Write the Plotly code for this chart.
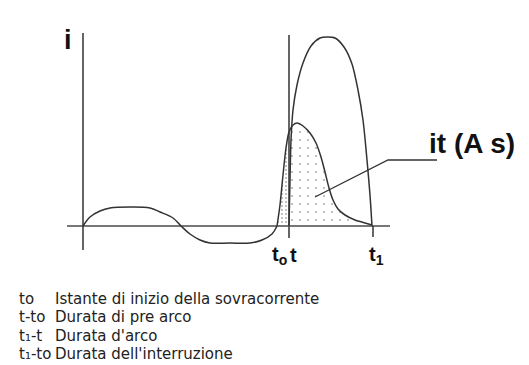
import plotly.graph_objects as go

# time axis origin at the vertical i axis, current 0 on the horizontal axis
wave_t = [0, 7, 17, 27, 47, 67, 77, 90, 98, 107, 117, 127, 147, 167, 179, 189, 194]
wave_i = [0, 9, 15, 18, 19, 18, 14, 8, 0, -8, -14, -17, -17, -17, -14, -8, 0]

# prospective short-circuit current (big arc)
prosp_t = [206, 207, 208, 210, 214, 220, 228, 237, 244, 252, 261, 269, 275, 280, 284, 287, 289]
prosp_i = [0, 46, 86, 116, 141, 163, 180, 188, 189, 188, 179, 162, 136, 106, 66, 31, 0]

# limited current through the fuse
lim_t = [194, 197, 200, 203, 206, 210, 214, 220, 227, 233, 238, 242, 246, 250, 255, 262, 272, 282, 289]
lim_i = [0, 21, 51, 78, 94, 101, 103, 100, 93, 83, 69, 54, 38, 26, 17, 11, 6, 3, 1]

t0 = 194
t = 206
t1 = 289

tick_labels = ['t<sub>o</sub>', 't', 't<sub>1</sub>']
tick_pos = [196, 210, 293]

legend_keys = ['to', 't-to', 't₁-t', 't₁-to']
legend_text = ['Istante di inizio della sovracorrente',
               'Durata di pre arco',
               'Durata d\'arco',
               'Durata dell\'interruzione']
legend_y = [-73, -91, -110, -128]

LINE = '#333333'
AXIS = '#777777'

fig = go.Figure()

# dotted areas under the limited current: pre-arc (dense) and arc (sparse)
k = lim_t.index(t)
fig.add_trace(go.Scatter(
    x=lim_t[:k + 1] + [t, t0], y=lim_i[:k + 1] + [0, 0],
    fill='toself', mode='lines', line=dict(width=0),
    fillcolor='rgba(0,0,0,0)',
    fillpattern=dict(shape='.', size=4, solidity=0.18, fgcolor='#555555', bgcolor='white'),
    hoverinfo='skip'))
fig.add_trace(go.Scatter(
    x=lim_t[k:] + [t1, t], y=lim_i[k:] + [0, 0],
    fill='toself', mode='lines', line=dict(width=0),
    fillcolor='rgba(0,0,0,0)',
    fillpattern=dict(shape='.', size=8, solidity=0.05, fgcolor='#555555', bgcolor='white'),
    hoverinfo='skip'))

# axes
fig.add_trace(go.Scatter(x=[-16, 307], y=[0, 0], mode='lines',
                         line=dict(color=AXIS, width=2), hoverinfo='skip'))
fig.add_trace(go.Scatter(x=[0, 0], y=[193, -24], mode='lines',
                         line=dict(color=LINE, width=1.5), hoverinfo='skip'))
fig.add_trace(go.Scatter(x=[t, t], y=[191, -12], mode='lines',
                         line=dict(color='#555555', width=1.8), hoverinfo='skip'))
fig.add_trace(go.Scatter(x=[t1 + 1, t1 + 1], y=[0, -11], mode='lines',
                         line=dict(color=LINE, width=1.5), hoverinfo='skip'))

# curves
for xs, ys, sm in [(wave_t, wave_i, 1.0), (prosp_t, prosp_i, 0.8), (lim_t, lim_i, 0.8)]:
    fig.add_trace(go.Scatter(x=xs, y=ys, mode='lines', line_shape='spline',
                             line=dict(color=LINE, width=1.5, smoothing=sm),
                             hoverinfo='skip'))

# pointer to the it label
fig.add_trace(go.Scatter(x=[232, 305, 354], y=[29, 66, 66], mode='lines',
                         line=dict(color=LINE, width=1.3), hoverinfo='skip'))

bold = dict(family='Liberation Sans, Arial, sans-serif', color='#111111')
fig.add_annotation(x=-15, y=186, text='<b>i</b>', showarrow=False,
                   font=dict(size=27, **bold))
fig.add_annotation(x=389, y=83, text='<b>it (A s)</b>', showarrow=False,
                   font=dict(size=28, **bold))
for lab, xp in zip(tick_labels, tick_pos):
    fig.add_annotation(x=xp, y=-29, text='<b>' + lab + '</b>', showarrow=False,
                       font=dict(size=20, **bold))

small = dict(family='DejaVu Sans, sans-serif', size=15, color='#222222')
for key, txt, yy in zip(legend_keys, legend_text, legend_y):
    fig.add_annotation(x=-66, y=yy, text=key, showarrow=False, xanchor='left', font=small)
    fig.add_annotation(x=-30, y=yy, text=txt, showarrow=False, xanchor='left', font=small)

fig.update_xaxes(range=[-83, 446], visible=False)
fig.update_yaxes(range=[-139, 226], visible=False)
fig.update_layout(width=529, height=365, margin=dict(l=0, r=0, t=0, b=0),
                  plot_bgcolor='white', paper_bgcolor='white', showlegend=False)

# page body has a default 8px margin, drop it so the figure sits at 0,0
fig.write_html('out.html', config={'displayModeBar': False},
               post_script="document.body.style.margin='0';")
